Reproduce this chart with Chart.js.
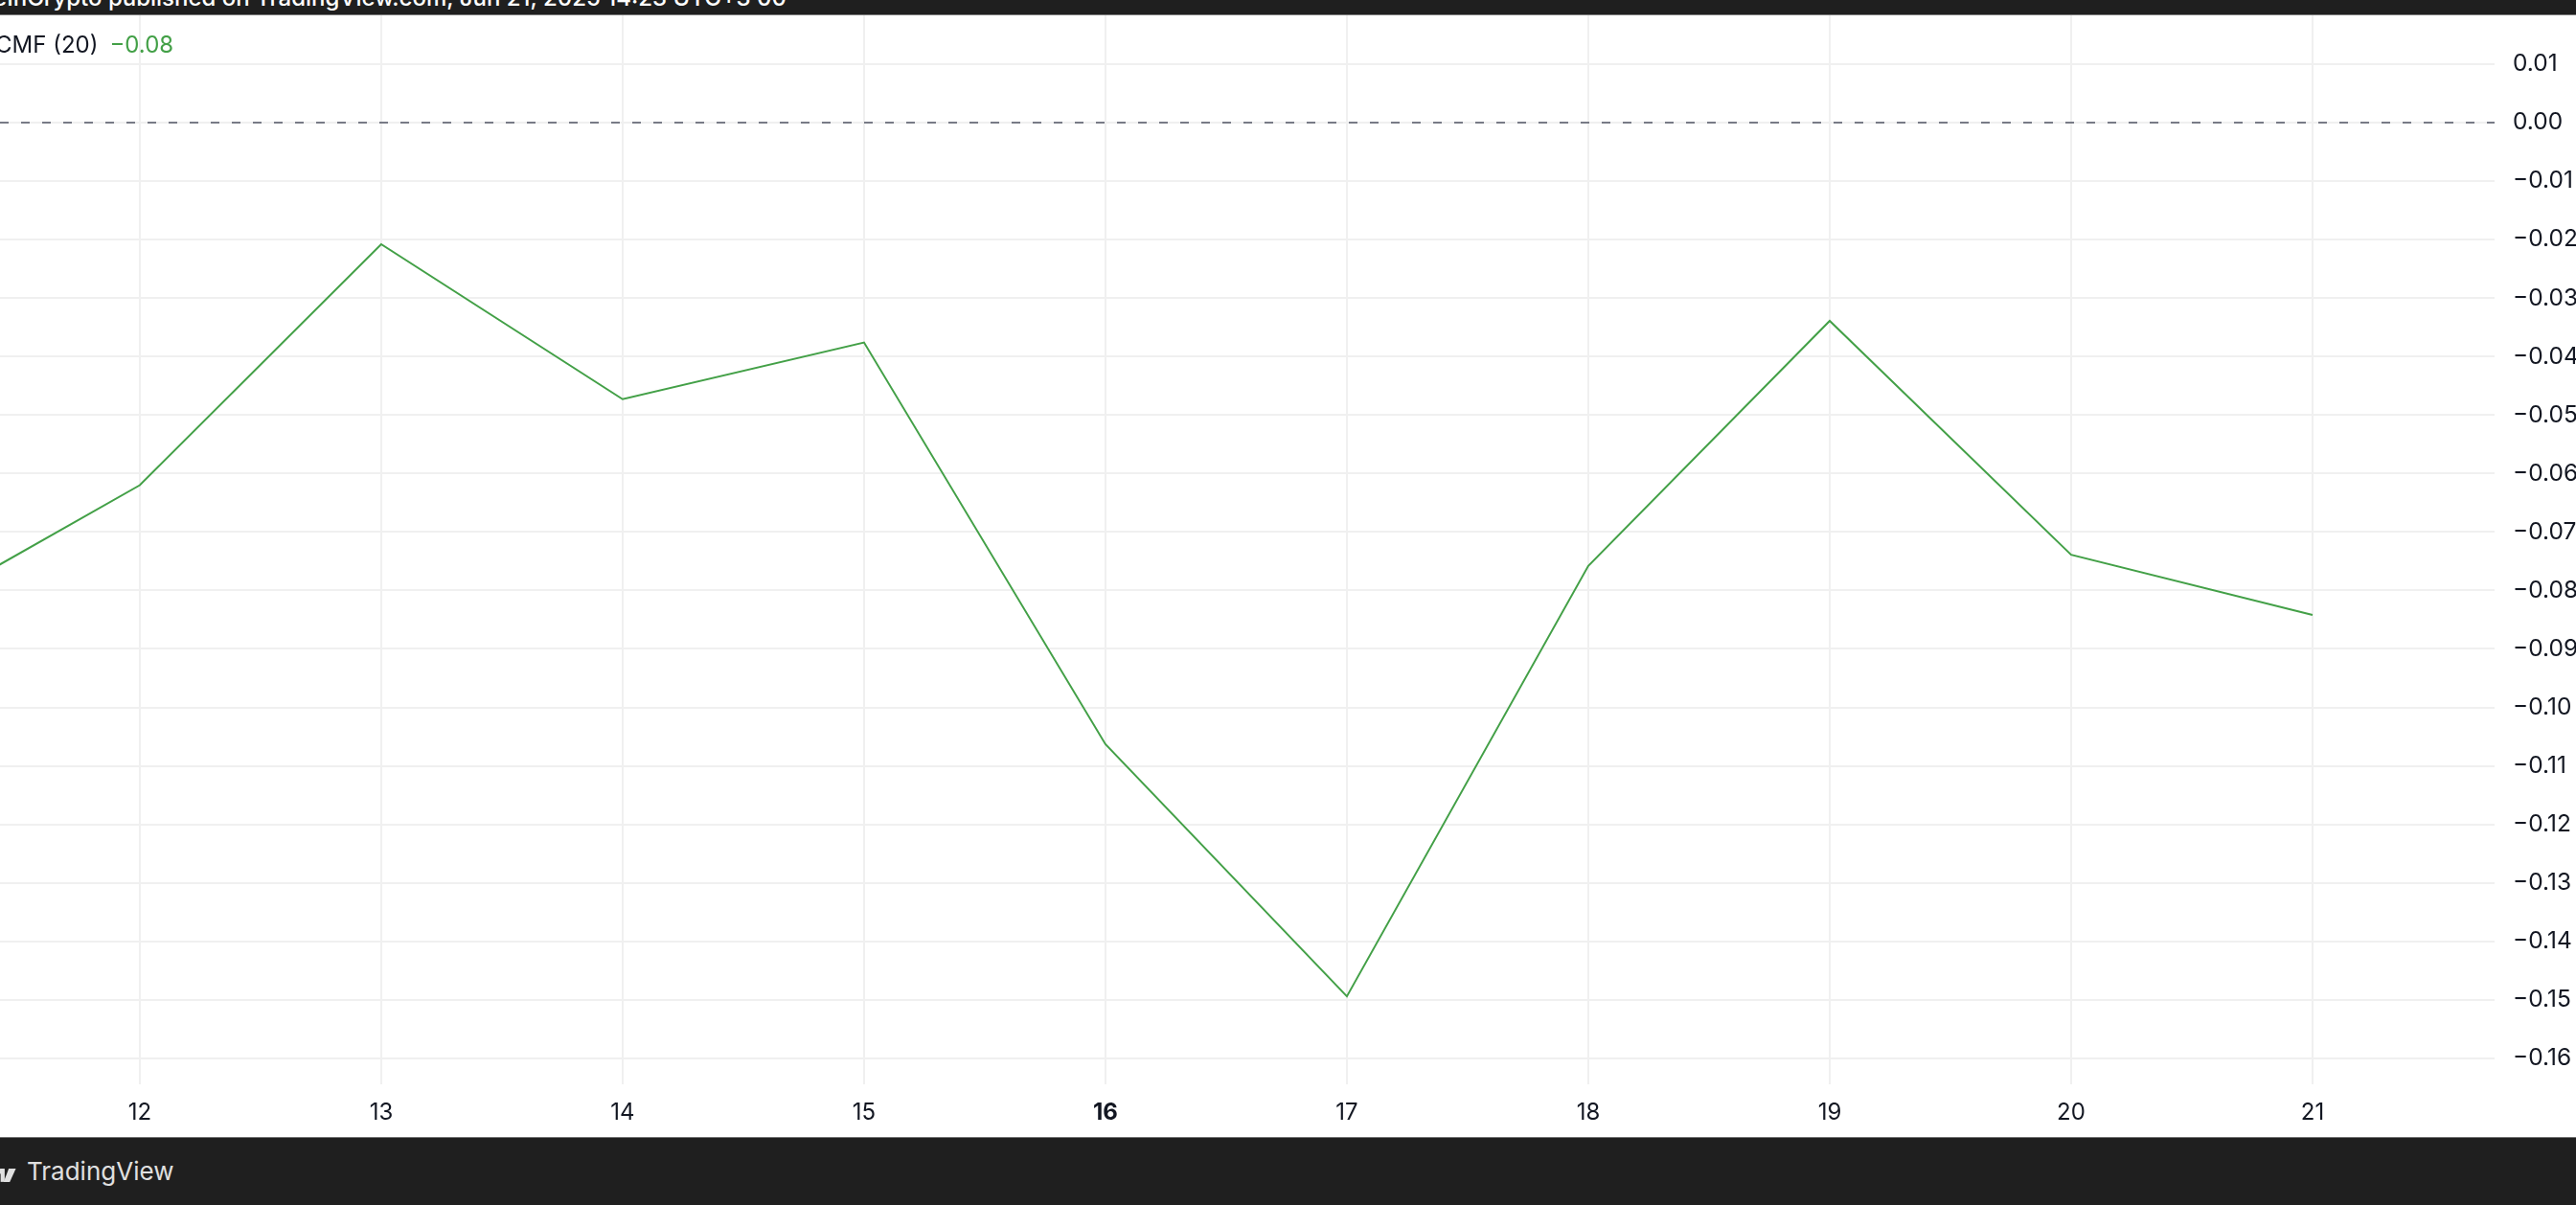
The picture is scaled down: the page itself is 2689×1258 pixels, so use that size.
<!DOCTYPE html>
<html>
<head>
<meta charset="utf-8">
<script src="https://cdn.jsdelivr.net/npm/chart.js@4.4.1/dist/chart.umd.min.js"></script>
<style>
  body { margin: 0; background: #fff; overflow: hidden; font-family: Inter, "Noto Sans", sans-serif; }
  #topbar { position: absolute; left: 0; top: 0; width: 2689px; height: 15px; background: #1f1f1f; border-bottom: 1px solid #7a7a7a; overflow: hidden; }
  #topbar span { position: absolute; right: 1868px; top: -14px; font-size: 24px; line-height: 24px; color: #fff; white-space: nowrap; font-weight: 500; }
  #wrap { position: absolute; left: 0; top: 16px; width: 2689px; height: 1171px; }
  #legend { position: absolute; left: -5px; top: 35px; font-size: 24px; line-height: 24px; color: #131722; white-space: nowrap; }
  #legend .val { color: #43a047; margin-left: 12px; }
  #footer { position: absolute; left: 0; top: 1187px; width: 2689px; height: 70px; background: #1f1f1f; border-top: 1px solid #6e6e6e; }
  #footer .brand { position: absolute; left: 28px; top: 21px; font-size: 26px; line-height: 28px; color: #e0e0e0; }
  #footer svg { position: absolute; left: -3px; top: 31px; }
</style>
</head>
<body>
<div id="topbar"><span>BeInCrypto published on TradingView.com, Jun 21, 2025 14:23 UTC+3 00</span></div>
<div id="wrap"><canvas id="cmfChart" width="2689" height="1171"></canvas></div>
<div id="legend">CMF (20)<span class="val" id="legendVal"></span></div>
<div id="footer">
  <svg width="20" height="17" viewBox="0 0 18 16"><rect x="0" y="1" width="6" height="5" fill="#e0e0e0"/><rect x="3" y="1" width="4" height="13" fill="#e0e0e0"/><polygon points="11,1 18,1 12,14 6,14" fill="#e0e0e0"/></svg>
  <div class="brand">TradingView</div>
</div>
<script>
// CMF (20) daily values, days 11..21
const days = [11, 12, 13, 14, 15, 16, 17, 18, 19, 20, 21];
const cmfValues = [-0.0854, -0.0620, -0.0208, -0.0473, -0.0376, -0.1063, -0.1494, -0.0758, -0.0339, -0.0739, -0.0842];

const xTickLabels = [12, 13, 14, 15, 16, 17, 18, 19, 20, 21];
const boldTick = 16;
const yTickValues = [0.01, 0, -0.01, -0.02, -0.03, -0.04, -0.05, -0.06, -0.07, -0.08,
                     -0.09, -0.10, -0.11, -0.12, -0.13, -0.14, -0.15, -0.16];
const xRange = [11.421, 21.754];
const yRange = [-0.16445, 0.01835];
const zeroLevel = 0;

const fmt = v => {
    const s = Math.abs(v) < 1e-9 ? '0.00' : v.toFixed(2);
    return s.replace('-', '\u2212');
};
document.getElementById('legendVal').textContent = fmt(cmfValues[cmfValues.length - 1]);

const fontFamily = 'Inter, "Noto Sans", sans-serif';
const gridColor = '#f0f0f0';

const ctx = document.getElementById('cmfChart').getContext('2d');
new Chart(ctx, {
    type: 'line',
    data: {
        datasets: [
            {
                // dashed zero level
                data: xRange.map(x => ({ x: x, y: zeroLevel })),
                borderColor: '#787b86',
                borderWidth: 2,
                borderDash: [9, 13],
                pointRadius: 0
            },
            {
                label: 'CMF (20)',
                data: days.map((d, i) => ({ x: d, y: cmfValues[i] })),
                borderColor: '#43a047',
                borderWidth: 2,
                pointRadius: 0,
                tension: 0
            }
        ]
    },
    options: {
        responsive: false,
        animation: false,
        devicePixelRatio: 1,
        layout: { padding: 0 },
        plugins: { legend: { display: false }, tooltip: { enabled: false } },
        scales: {
            x: {
                type: 'linear',
                position: 'bottom',
                min: xRange[0],
                max: xRange[1],
                grid: { color: gridColor, lineWidth: 2, drawTicks: false },
                border: { display: false },
                ticks: {
                    padding: 15,
                    color: '#131722',
                    font: c => ({ family: fontFamily, size: 24, weight: (c.tick && c.tick.value === boldTick) ? 'bold' : 'normal' }),
                    callback: v => String(v)
                },
                afterBuildTicks: s => { s.ticks = xTickLabels.map(v => ({ value: v })); },
                afterFit: s => { s.height = 55; }
            },
            y: {
                type: 'linear',
                position: 'right',
                min: yRange[0],
                max: yRange[1],
                grid: { color: gridColor, lineWidth: 2, drawTicks: false },
                border: { display: false },
                ticks: {
                    padding: 19,
                    color: '#131722',
                    font: { family: fontFamily, size: 24.5 },
                    callback: v => fmt(v)
                },
                afterBuildTicks: s => { s.ticks = yTickValues.map(v => ({ value: v })); },
                afterFit: s => { s.width = 85; s.paddingTop = 0; s.paddingBottom = 0; }
            }
        }
    }
});
</script>
</body>
</html>
